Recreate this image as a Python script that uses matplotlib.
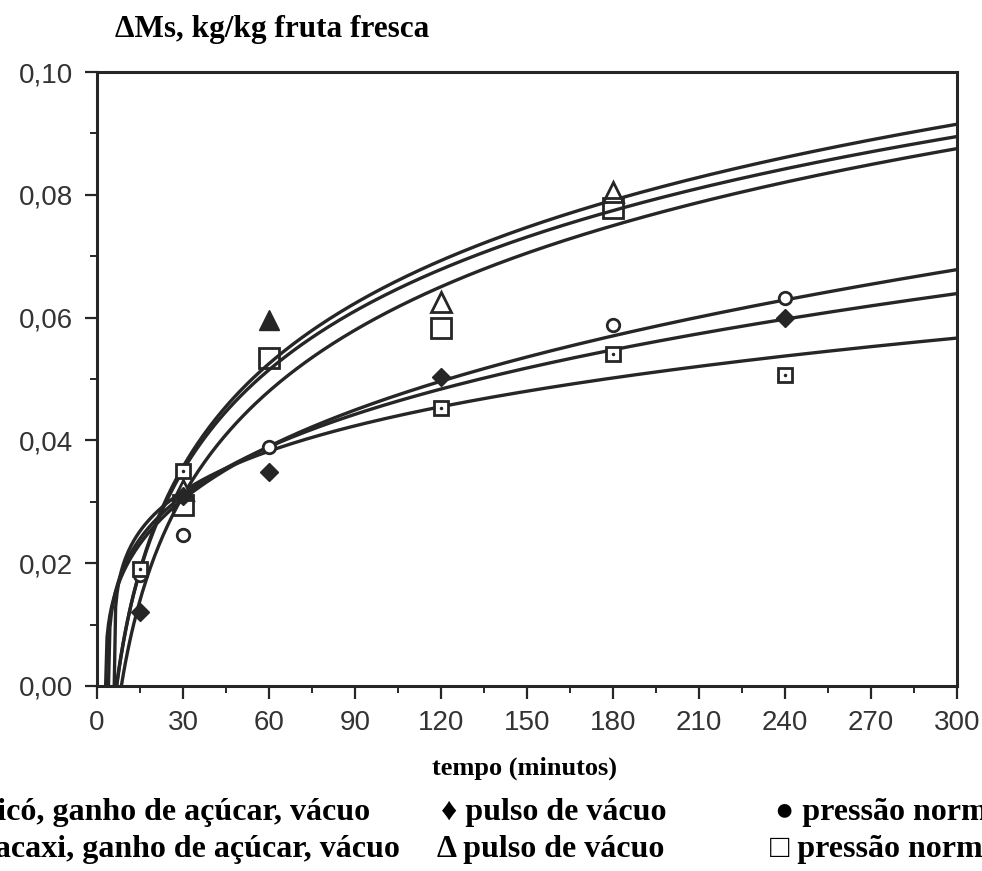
import numpy as np
import matplotlib
matplotlib.use('Agg')
import matplotlib.pyplot as plt
from matplotlib.ticker import MultipleLocator, FuncFormatter

# fitted curves, upper group: dMs = a + b*ln(t)
log_a = [-0.0467, -0.04517, -0.0525]
log_b = [0.02423, 0.02361, 0.02455]

# fitted curves, lower group: dMs = k*(t - t0)**n
pow_k = [0.01008, 0.01176, 0.01516]
pow_t0 = [3.0, 4.0, 6.0]
pow_n = [0.3348, 0.2975, 0.232]

# measured points
tri_t = [30, 120, 180]
tri_y = [0.032, 0.0625, 0.0805]
tri_fill_t = [60]
tri_fill_y = [0.0596]
bigsq_t = [30, 60, 120, 180]
bigsq_y = [0.0295, 0.0535, 0.0583, 0.0778]
dia_t = [15, 30, 60, 120, 240]
dia_y = [0.012, 0.031, 0.0349, 0.0503, 0.0599]
circ_t = [15, 30, 60, 180, 240]
circ_y = [0.018, 0.0246, 0.039, 0.0588, 0.0632]
smsq_t = [15, 30, 120, 180, 240]
smsq_y = [0.019, 0.035, 0.0453, 0.0541, 0.0506]

xticks = [0, 30, 60, 90, 120, 150, 180, 210, 240, 270, 300]
yticks = [0.00, 0.02, 0.04, 0.06, 0.08, 0.10]

ink = '#262626'
serif = ['Liberation Serif', 'DejaVu Serif']

fig = plt.figure(figsize=(9.82, 8.71), dpi=100)
ax = fig.add_axes([0.0988, 0.2124, 0.8758, 0.7049])

for a, b in zip(log_a, log_b):
    t = np.linspace(np.exp(-a / b), 300, 400)
    ax.plot(t, a + b * np.log(t), color=ink, lw=2.4, zorder=2)

for k, t0, n in zip(pow_k, pow_t0, pow_n):
    t = np.linspace(t0, 300, 600)
    ax.plot(t, k * (t - t0) ** n, color=ink, lw=2.4, zorder=2)

ax.plot(tri_t, tri_y, ls='none', marker='^', ms=15, mfc='white', mec=ink, mew=2, zorder=3)
ax.plot(tri_fill_t, tri_fill_y, ls='none', marker='^', ms=15, mfc=ink, mec=ink, zorder=3)
ax.plot(bigsq_t, bigsq_y, ls='none', marker='s', ms=15, mfc='none', mec=ink, mew=2, zorder=3)
ax.plot(dia_t, dia_y, ls='none', marker='D', ms=9, mfc=ink, mec=ink, zorder=3)
ax.plot(circ_t, circ_y, ls='none', marker='o', ms=9, mfc='white', mec=ink, mew=2, zorder=3)
ax.plot(smsq_t, smsq_y, ls='none', marker='s', ms=10, mfc='white', mec=ink, mew=2, zorder=3)
ax.plot(smsq_t, smsq_y, ls='none', marker='.', ms=3, color=ink, zorder=4)

ax.set_xlim(0, 300)
ax.set_ylim(0, 0.10)
ax.set_xticks(xticks)
ax.set_yticks(yticks)
ax.xaxis.set_minor_locator(MultipleLocator(15))
ax.yaxis.set_minor_locator(MultipleLocator(0.01))
ax.yaxis.set_major_formatter(FuncFormatter(lambda v, p: '{:.2f}'.format(v).replace('.', ',')))
ax.tick_params(which='major', direction='out', length=9, width=1.6, color=ink,
               labelsize=20, labelcolor='#333333', pad=8)
ax.tick_params(which='minor', direction='out', length=5, width=1.4, color=ink)
for lab in ax.get_xticklabels() + ax.get_yticklabels():
    lab.set_family('Liberation Sans')
for s in ax.spines.values():
    s.set_linewidth(2.2)
    s.set_color(ink)

fig.text(115 / 982, 1 - 30 / 871, 'ΔMs, kg/kg fruta fresca', family=serif,
         weight='bold', fontsize=22.5, ha='left', va='center')
fig.text(525 / 982, 1 - 768 / 871, 'tempo (minutos)', family=serif,
         weight='bold', fontsize=19, ha='center', va='center')

row1 = 1 - 812 / 871
row2 = 1 - 849 / 871
fig.text(370 / 982, row1, 'Abricó, ganho de açúcar, vácuo', family=serif,
         weight='bold', fontsize=23, ha='right', va='center')
fig.text(400 / 982, row2, 'Abacaxi, ganho de açúcar, vácuo', family=serif,
         weight='bold', fontsize=23, ha='right', va='center')
fig.text(441 / 982, row1, '♦ pulso de vácuo', family=serif,
         weight='bold', fontsize=23, ha='left', va='center')
fig.text(437 / 982, row2, 'Δ pulso de vácuo', family=serif,
         weight='bold', fontsize=23, ha='left', va='center')
fig.text(775 / 982, row1, '● pressão normal', family=serif,
         weight='bold', fontsize=23, ha='left', va='center')
fig.text(770 / 982, row2, '□ pressão normal', family=serif,
         weight='bold', fontsize=23, ha='left', va='center')

fig.savefig('out.png', dpi=100)
